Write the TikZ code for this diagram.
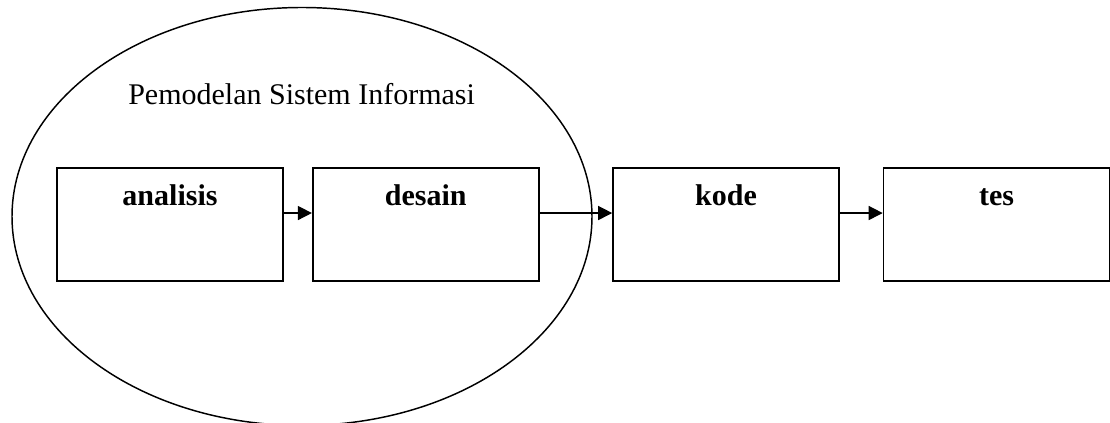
\documentclass[tikz,border=0pt]{standalone}
\usepackage{fontspec}
\setmainfont{Liberation Serif}
\usetikzlibrary{arrows.meta,positioning,shapes.geometric}

\begin{document}
\begin{tikzpicture}[
x=0.75pt, y=-0.75pt,
tahap/.style={
draw=black,
line width=1.2pt,
inner sep=0pt,
minimum width=169.5pt,
minimum height=84.75pt,
text height=28.5pt,
text depth=56.25pt,
font=\fontsize{22.5}{27}\selectfont\bfseries
},
panah/.style={
-{Triangle[length=10.5pt,width=10.5pt]},
line width=1.1pt
}
]
\useasboundingbox (0,0) rectangle (1110,423);

% lingkup pemodelan
\node[ellipse,draw=black,line width=1.1pt,inner sep=0pt,
minimum width=435pt,minimum height=313.5pt] (sistem) at (302,216.5) {};
\node[anchor=base,font=\fontsize{22.5}{27}\selectfont] (judul) at (301.6,105) {Pemodelan Sistem Informasi};

% tahapan
\node[tahap] (analisis) at (170,224.5) {analisis};
\node[tahap] (desain) at (425.7,224.5) {desain};
\node[tahap] (kode) at (726,224.5) {kode};
\node[tahap] (tes) at (996.5,224.5) {tes};

\draw[panah] ([yshift=8.6pt]analisis.east) -- ([yshift=8.6pt]desain.west);
\draw[panah] ([yshift=8.6pt]desain.east) -- ([yshift=8.6pt]kode.west);
\draw[panah] ([yshift=8.6pt]kode.east) -- ([yshift=8.6pt]tes.west);

\end{tikzpicture}
\end{document}
